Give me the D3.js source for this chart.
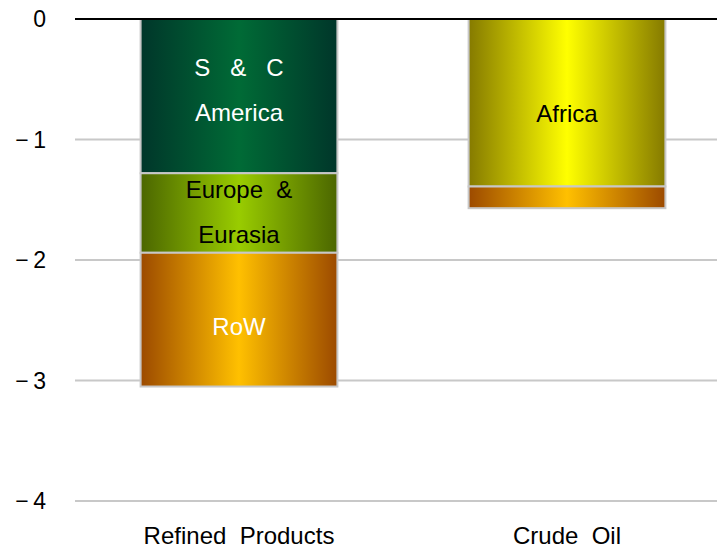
<!DOCTYPE html>
<html><head><meta charset="utf-8">
<script src="https://cdn.jsdelivr.net/npm/d3@7"></script>
<style>body{margin:0;background:#fff}svg{display:block;font-family:"Liberation Sans",Arial,sans-serif}</style>
</head><body><svg id="c" width="717" height="550"></svg>
<script>
const categories = ["Refined  Products", "Crude  Oil"];
// segment values per category (negative contributions, stacked downward from 0)
const refinedValues = [-1.28, -0.66, -1.11];
const refinedRegions = ["S&C America", "Europe & Eurasia", "RoW"];
const crudeValues = [-1.39, -0.18];
const crudeRegions = ["Africa", "RoW"];
// label anchor value (data units) for labelled segments
const refinedLabelAt = [-0.59, -1.60, -2.55];
const crudeLabelAt = [-0.78, null];
const segLabels = {"S&C America": ["S   &   C", "America"], "Europe & Eurasia": ["Europe  &", "Eurasia"], "RoW": ["RoW"], "Africa": ["Africa"]};
const yTicks = [0, -1, -2, -3, -4];

const grads = {
  "S&C America": {edge: "#00362a", mid: "#006b36", text: "#ffffff"},
  "Europe & Eurasia": {edge: "#4b6600", mid: "#99cc00", text: "#000000"},
  "RoW": {edge: "#9c4a00", mid: "#ffc000", text: "#ffffff"},
  "Africa": {edge: "#857a00", mid: "#ffff00", text: "#000000"}
};

const svg = d3.select("#c");
const defs = svg.append("defs");
Object.entries(grads).forEach(([k, g], i) => {
  const lg = defs.append("linearGradient").attr("id", "g" + i).attr("x1", "0").attr("x2", "1").attr("y1", "0").attr("y2", "0");
  lg.append("stop").attr("offset", "0%").attr("stop-color", g.edge);
  lg.append("stop").attr("offset", "50%").attr("stop-color", g.mid);
  lg.append("stop").attr("offset", "100%").attr("stop-color", g.edge);
  g.id = "g" + i;
});

const y = d3.scaleLinear().domain([0, -4]).range([19, 501]);
const x = d3.scaleBand().domain(categories).range([75, 731]).paddingInner(0.4).paddingOuter(0.2);

// gridlines
svg.append("g").selectAll("line").data(yTicks.filter(t => t !== 0)).join("line")
  .attr("x1", 75).attr("x2", 717).attr("y1", d => y(d)).attr("y2", d => y(d))
  .attr("stroke", "#c8c8c8").attr("stroke-width", 2);

// tick labels
svg.append("g").selectAll("text").data(yTicks).join("text")
  .attr("x", 46).attr("y", d => y(d)).attr("dy", "0.36em")
  .attr("text-anchor", "end").attr("font-size", 23).attr("fill", "#000")
  .text(d => d === 0 ? "0" : "\u2212" + "\u2009" + Math.abs(d));

const data = [
  {cat: categories[0], vals: refinedValues, regs: refinedRegions, labs: refinedLabelAt},
  {cat: categories[1], vals: crudeValues, regs: crudeRegions, labs: crudeLabelAt}
];
const segs = [];
data.forEach(d => {
  let acc = 0;
  d.vals.forEach((v, i) => {
    segs.push({cat: d.cat, region: d.regs[i], y0: acc, y1: acc + v, labelAt: d.labs[i]});
    acc += v;
  });
});

const bw = x.bandwidth();
svg.append("g").selectAll("rect").data(segs).join("rect")
  .attr("x", d => x(d.cat)).attr("width", bw)
  .attr("y", d => y(d.y0)).attr("height", d => y(d.y1) - y(d.y0))
  .attr("fill", d => `url(#${grads[d.region].id})`)
  .attr("stroke", "#c8c8c8").attr("stroke-width", 2);

// segment labels
const lab = svg.append("g");
segs.forEach(s => {
  if (s.labelAt == null) return;
  const lines = segLabels[s.region];
  const cx = x(s.cat) + bw / 2;
  const cy = y(s.labelAt);
  const lh = 45;
  lines.forEach((t, i) => {
    lab.append("text").attr("x", cx).attr("y", cy + (i - (lines.length - 1) / 2) * lh)
      .attr("dy", "0.36em").attr("text-anchor", "middle").attr("font-size", 24)
      .attr("fill", grads[s.region].text).style("white-space", "pre").text(t);
  });
});

// zero line
svg.append("line").attr("x1", 75).attr("x2", 717).attr("y1", y(0)).attr("y2", y(0))
  .attr("stroke", "#000").attr("stroke-width", 2);

// category labels
svg.append("g").selectAll("text").data(categories).join("text")
  .attr("x", d => x(d) + bw / 2).attr("y", 544)
  .attr("text-anchor", "middle").attr("font-size", 24).attr("fill", "#000")
  .style("white-space", "pre").text(d => d);
</script></body></html>
